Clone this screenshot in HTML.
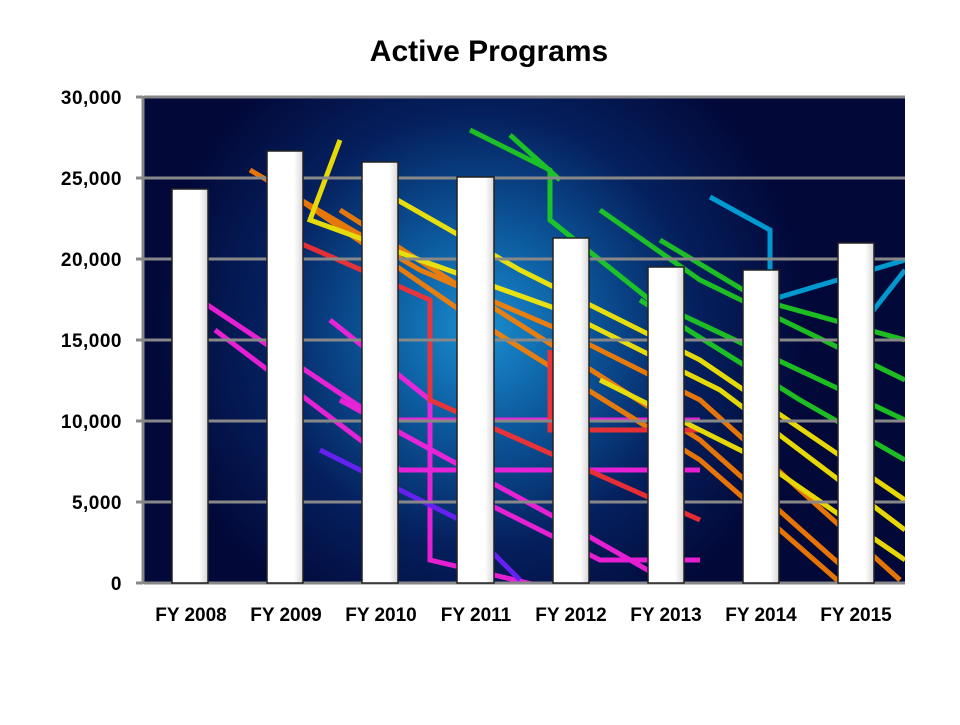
<!DOCTYPE html>
<html><head><style>
body{margin:0;background:#fff;}
svg text{font-family:"Liberation Sans",sans-serif;font-weight:bold;}
</style></head><body>
<svg width="960" height="720" viewBox="0 0 960 720" xmlns="http://www.w3.org/2000/svg">
<defs>
<radialGradient id="glow" cx="480" cy="330" r="330" gradientUnits="userSpaceOnUse">
<stop offset="0" stop-color="#1a8fd0"/>
<stop offset="0.3" stop-color="#0c5a9e"/>
<stop offset="0.65" stop-color="#05205e"/>
<stop offset="1" stop-color="#020838"/>
</radialGradient>
<linearGradient id="bar" x1="0" x2="1">
<stop offset="0" stop-color="#fff"/><stop offset="0.75" stop-color="#fff"/><stop offset="1" stop-color="#d8d8d8"/>
</linearGradient>
<clipPath id="pc"><rect x="144" y="97" width="761" height="486"/></clipPath>
</defs>
<rect x="144" y="97" width="761" height="486" fill="#020838"/>
<rect x="144" y="97" width="761" height="486" fill="url(#glow)"/>
<g clip-path="url(#pc)" fill="none" stroke-width="5" opacity="0.9">
<g stroke="#ff20e0">
<path d="M200 300 L380 420 L700 420"/><path d="M215 330 L400 470 L700 470"/>
<path d="M330 320 L430 400 L430 560 L600 600"/><path d="M340 400 L560 520 L700 600"/>
<path d="M460 490 L600 560 L700 560"/>
</g>
<g stroke="#ff8000">
<path d="M250 170 L420 270 L560 330 L700 400 L900 580"/><path d="M340 210 L560 350 L700 440 L880 600"/>
<path d="M300 200 L460 310 L700 460 L860 600"/>
</g>
<g stroke="#ff3030">
<path d="M270 230 L430 300 L430 400 L700 520"/><path d="M550 350 L550 430 L700 430"/>
</g>
<g stroke="#ffee00">
<path d="M340 140 L310 220 L420 260 L560 310 L720 390 L905 530"/><path d="M380 190 L520 270 L700 360 L905 500"/>
<path d="M600 380 L760 460 L905 560"/>
</g>
<g stroke="#20d020">
<path d="M470 130 L550 170 L550 220 L650 300 L905 420"/><path d="M510 135 L560 180"/>
<path d="M600 210 L700 280 L905 380"/><path d="M660 240 L760 300 L905 340"/>
<path d="M640 300 L800 400 L905 460"/>
</g>
<g stroke="#00a8e0">
<path d="M710 197 L770 230 L770 300 L905 260"/><path d="M850 340 L905 270"/>
</g>
<g stroke="#7020ff"><path d="M320 450 L460 520 L520 580"/></g>
</g>
<g stroke="#888" stroke-width="3">
<line x1="144" y1="97" x2="905" y2="97"/><line x1="144" y1="178" x2="905" y2="178"/>
<line x1="144" y1="259" x2="905" y2="259"/><line x1="144" y1="340" x2="905" y2="340"/>
<line x1="144" y1="421" x2="905" y2="421"/><line x1="144" y1="502" x2="905" y2="502"/>
<line x1="144" y1="583" x2="905" y2="583"/>
<line x1="143" y1="96" x2="143" y2="584"/>
<line x1="136" y1="97" x2="143" y2="97"/><line x1="136" y1="178" x2="143" y2="178"/>
<line x1="136" y1="259" x2="143" y2="259"/><line x1="136" y1="340" x2="143" y2="340"/>
<line x1="136" y1="421" x2="143" y2="421"/><line x1="136" y1="502" x2="143" y2="502"/>
<line x1="136" y1="583" x2="143" y2="583"/>
</g>
<g fill="url(#bar)" stroke="#222" stroke-width="1.5">
<rect x="172" y="189" width="36" height="394"/>
<rect x="267" y="151" width="36" height="432"/>
<rect x="362" y="162" width="36" height="421"/>
<rect x="457" y="177" width="37" height="406"/>
<rect x="553" y="238" width="36" height="345"/>
<rect x="648" y="267" width="36" height="316"/>
<rect x="743" y="270" width="36" height="313"/>
<rect x="838" y="243" width="36" height="340"/>
</g>
<text x="489" y="61" font-size="30" text-anchor="middle">Active Programs</text>
<g font-size="19" text-anchor="end" letter-spacing="0.5">
<text x="122" y="104">30,000</text><text x="122" y="185">25,000</text>
<text x="122" y="266">20,000</text><text x="122" y="347">15,000</text>
<text x="122" y="428">10,000</text><text x="122" y="509">5,000</text>
<text x="122" y="590">0</text>
</g>
<g font-size="19" text-anchor="middle">
<text x="191" y="621">FY 2008</text><text x="286" y="621">FY 2009</text>
<text x="381" y="621">FY 2010</text><text x="476" y="621">FY 2011</text>
<text x="571" y="621">FY 2012</text><text x="666" y="621">FY 2013</text>
<text x="761" y="621">FY 2014</text><text x="856" y="621">FY 2015</text>
</g>
</svg>
</body></html>
